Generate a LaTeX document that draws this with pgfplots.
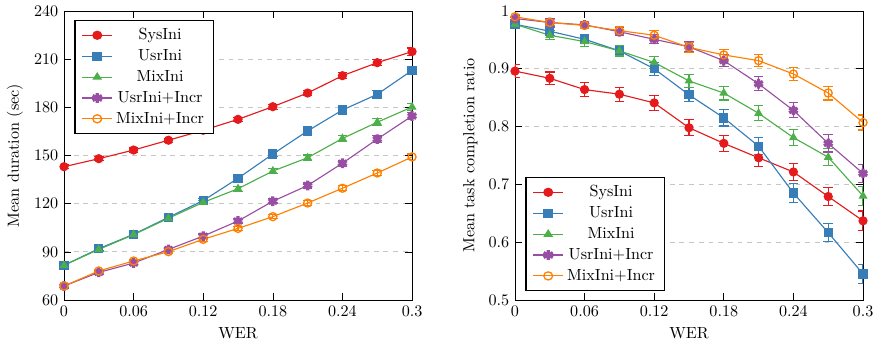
\documentclass[border=0pt]{standalone}
\usepackage{pgfplots}
\pgfplotsset{compat=1.18}
\definecolor{cred}{RGB}{228,26,28}
\definecolor{cblue}{RGB}{55,126,184}
\definecolor{cgreen}{RGB}{77,175,74}
\definecolor{cpurple}{RGB}{152,78,163}
\definecolor{corange}{RGB}{255,127,0}
\pgfplotsset{
  myaxis/.style={
    scale only axis,
    width=215.8pt, height=179.2pt,
    xmin=0, xmax=0.3,
    xtick={0,0.06,0.12,0.18,0.24,0.3},
    xticklabel style={/pgf/number format/fixed,/pgf/number format/precision=2},
    yticklabel style={/pgf/number format/fixed,/pgf/number format/precision=2},
    xlabel={WER},
    ymajorgrids,
    major grid style={dashed,gray!45,line width=0.5pt},
    tick style={black,line width=0.4pt},
    legend cell align=center,
    legend image post style={xscale=1.1},
    legend style={draw=black,line width=0.8pt,font=\normalsize,row sep=0.6pt,inner xsep=4pt,inner ysep=3pt},
    every axis plot/.append style={line width=0.7pt, mark size=2.5pt},
    error bars/y dir=both, error bars/y explicit,
    error bars/error bar style={line width=0.7pt},
    error bars/error mark options={rotate=90,mark size=3pt,line width=0.7pt},
  },
  sys/.style={cred, mark=*, mark options={solid,fill=cred}},
  usr/.style={cblue, mark=square*, mark options={solid,fill=cblue}},
  mix/.style={cgreen, mark=triangle*, mark options={solid,fill=cgreen}},
  usri/.style={cpurple, mark=asterisk, mark options={solid,line width=2pt,mark size=3pt}},
  mixi/.style={corange, mark=o, mark options={solid,fill=white,line width=0.8pt}},
}
\begin{document}
\begin{tikzpicture}
\begin{axis}[myaxis,
  ymin=60, ymax=240, ytick={60,90,120,150,180,210,240},
  ylabel={Mean duration (sec)},
  legend style={at={(0.03,0.97)},anchor=north west},
]
\addplot[sys] coordinates {(0,143.0)+-(0,1.3) (0.03,148.0)+-(0,1.3) (0.06,153.4)+-(0,1.3) (0.09,159.5)+-(0,1.3) (0.12,165.7)+-(0,1.4) (0.15,172.5)+-(0,1.4) (0.18,180.4)+-(0,1.5) (0.21,188.9)+-(0,1.6) (0.24,199.7)+-(0,1.8) (0.27,207.8)+-(0,2.0) (0.3,214.7)+-(0,2.2)};
\addplot[usr] coordinates {(0,81.6)+-(0,1.2) (0.03,92.0)+-(0,1.2) (0.06,100.9)+-(0,1.3) (0.09,111.5)+-(0,1.3) (0.12,121.9)+-(0,1.4) (0.15,135.8)+-(0,1.5) (0.18,150.9)+-(0,1.6) (0.21,165.3)+-(0,1.8) (0.24,178.3)+-(0,2.0) (0.27,188.1)+-(0,2.3) (0.3,203.0)+-(0,2.6)};
\addplot[mix] coordinates {(0,81.6)+-(0,1.2) (0.03,91.5)+-(0,1.2) (0.06,100.7)+-(0,1.3) (0.09,110.9)+-(0,1.3) (0.12,120.8)+-(0,1.4) (0.15,129.3)+-(0,1.5) (0.18,140.3)+-(0,1.6) (0.21,148.6)+-(0,1.7) (0.24,160.6)+-(0,1.9) (0.27,170.7)+-(0,2.1) (0.3,180.2)+-(0,2.4)};
\addplot[usri] coordinates {(0,68.7)+-(0,1.2) (0.03,77.2)+-(0,1.2) (0.06,83.0)+-(0,1.2) (0.09,91.5)+-(0,1.3) (0.12,99.8)+-(0,1.3) (0.15,109.2)+-(0,1.4) (0.18,121.5)+-(0,1.5) (0.21,131.3)+-(0,1.6) (0.24,145.2)+-(0,1.8) (0.27,160.2)+-(0,2.0) (0.3,174.6)+-(0,2.3)};
\addplot[mixi] coordinates {(0,68.7)+-(0,1.1) (0.03,78.1)+-(0,1.1) (0.06,84.3)+-(0,1.1) (0.09,90.1)+-(0,1.2) (0.12,97.8)+-(0,1.2) (0.15,104.6)+-(0,1.3) (0.18,111.9)+-(0,1.3) (0.21,120.4)+-(0,1.4) (0.24,129.6)+-(0,1.5) (0.27,139.1)+-(0,1.6) (0.3,149.1)+-(0,1.8)};
\legend{SysIni,UsrIni,MixIni,UsrIni+Incr,MixIni+Incr}
\end{axis}
\begin{axis}[myaxis, xshift=279.6pt,
  ymin=0.5, ymax=1, ytick={0.5,0.6,0.7,0.8,0.9,1},
  ylabel={Mean task completion ratio},
  legend style={at={(0.03,0.03)},anchor=south west},
]
\addplot[sys] coordinates {(0,0.896)+-(0,0.011) (0.03,0.8835)+-(0,0.011) (0.06,0.864)+-(0,0.012) (0.09,0.856)+-(0,0.012) (0.12,0.841)+-(0,0.013) (0.15,0.798)+-(0,0.014) (0.18,0.771)+-(0,0.014) (0.21,0.746)+-(0,0.015) (0.24,0.7215)+-(0,0.015) (0.27,0.679)+-(0,0.016) (0.3,0.637)+-(0,0.017)};
\addplot[usr] coordinates {(0,0.977)+-(0,0.006) (0.03,0.965)+-(0,0.007) (0.06,0.951)+-(0,0.008) (0.09,0.931)+-(0,0.009) (0.12,0.900)+-(0,0.011) (0.15,0.855)+-(0,0.012) (0.18,0.815)+-(0,0.014) (0.21,0.766)+-(0,0.015) (0.24,0.685)+-(0,0.016) (0.27,0.6165)+-(0,0.016) (0.3,0.545)+-(0,0.017)};
\addplot[mix] coordinates {(0,0.977)+-(0,0.006) (0.03,0.958)+-(0,0.008) (0.06,0.947)+-(0,0.008) (0.09,0.931)+-(0,0.009) (0.12,0.911)+-(0,0.010) (0.15,0.879)+-(0,0.011) (0.18,0.858)+-(0,0.012) (0.21,0.823)+-(0,0.013) (0.24,0.781)+-(0,0.014) (0.27,0.747)+-(0,0.015) (0.3,0.680)+-(0,0.016)};
\addplot[usri] coordinates {(0,0.987)+-(0,0.005) (0.03,0.980)+-(0,0.006) (0.06,0.976)+-(0,0.006) (0.09,0.964)+-(0,0.007) (0.12,0.951)+-(0,0.008) (0.15,0.938)+-(0,0.009) (0.18,0.914)+-(0,0.010) (0.21,0.874)+-(0,0.012) (0.24,0.828)+-(0,0.013) (0.27,0.771)+-(0,0.015) (0.3,0.719)+-(0,0.016)};
\addplot[mixi] coordinates {(0,0.990)+-(0,0.004) (0.03,0.980)+-(0,0.005) (0.06,0.975)+-(0,0.006) (0.09,0.966)+-(0,0.007) (0.12,0.958)+-(0,0.008) (0.15,0.937)+-(0,0.009) (0.18,0.924)+-(0,0.009) (0.21,0.914)+-(0,0.010) (0.24,0.891)+-(0,0.011) (0.27,0.858)+-(0,0.012) (0.3,0.807)+-(0,0.013)};
\legend{SysIni,UsrIni,MixIni,UsrIni+Incr,MixIni+Incr}
\end{axis}
\pgfresetboundingbox
\path (-39.68pt,-28.52pt) rectangle (504.06pt,186pt);
\end{tikzpicture}
\end{document}
